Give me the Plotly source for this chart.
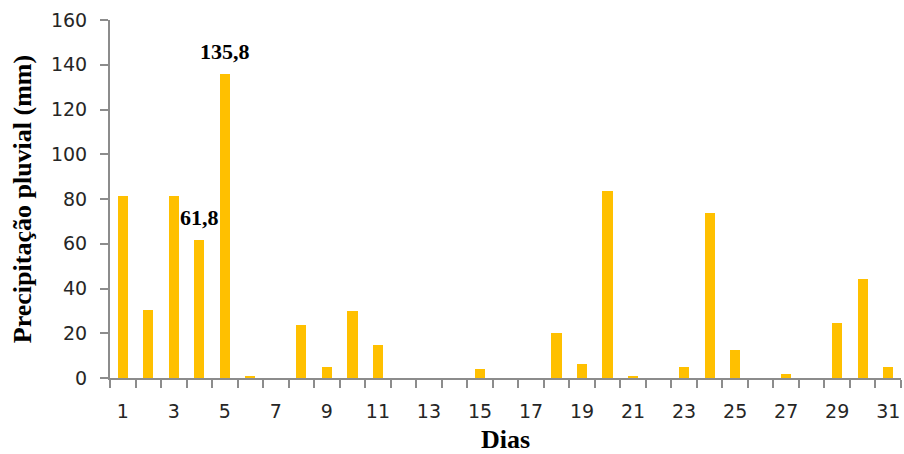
import plotly.graph_objects as go

# Daily rainfall (mm) for one month
dias = list(range(1, 32))
precipitacao = [81.5, 30.5, 81.5, 61.8, 135.8, 1.0, 0.0, 23.6, 4.7, 29.8,
                14.6, 0.0, 0.0, 0.0, 4.0, 0.0, 0.0, 19.9, 6.3, 83.6,
                1.0, 0.0, 4.7, 73.7, 12.3, 0.0, 1.8, 0.0, 24.6, 44.2, 4.7]

# Days whose value is written above the bar
dias_rotulados = [4, 5]

# Odd days get a label on the x axis
rotulos_x = list(range(1, 32, 2))

AXIS_GRAY = "#8c8c8c"
TICK_FONT = dict(family="DejaVu Sans", size=19, color="#262626")
TITLE_FONT = dict(family="Liberation Serif", size=26, color="#000000")

fig = go.Figure(
    go.Bar(
        x=dias,
        y=precipitacao,
        width=0.4,
        marker=dict(color="#FFC000", line=dict(width=0)),
        hoverinfo="x+y",
    )
)

for d in dias_rotulados:
    v = precipitacao[d - 1]
    fig.add_annotation(
        x=d, y=v,
        text=f"<b>{v:.1f}".replace(".", ",") + "</b>",
        showarrow=False,
        yanchor="bottom",
        yshift=8,
        font=dict(family="Liberation Serif", size=22, color="#000000"),
    )

fig.update_layout(
    width=904,
    height=454,
    margin=dict(l=110, r=3, t=20, b=76),
    paper_bgcolor="white",
    plot_bgcolor="white",
    showlegend=False,
    bargap=0,
)

fig.update_xaxes(
    range=[0.5, 31.5],
    tickmode="array",
    tickvals=rotulos_x,
    ticktext=[str(v) for v in rotulos_x],
    ticks="",
    ticklabelstandoff=15,
    tickfont=TICK_FONT,
    showline=True,
    linecolor=AXIS_GRAY,
    linewidth=2,
    showgrid=False,
    zeroline=False,
    minor=dict(
        tickmode="array",
        tickvals=[d + 0.5 for d in range(0, 32)],
        ticks="outside",
        ticklen=8,
        tickwidth=2,
        tickcolor=AXIS_GRAY,
        showgrid=False,
    ),
    title=dict(text="<b>Dias</b>", font=TITLE_FONT, standoff=12),
)

fig.update_yaxes(
    range=[0, 160],
    tick0=0,
    dtick=20,
    ticks="outside",
    ticklen=8,
    tickwidth=2,
    tickcolor=AXIS_GRAY,
    ticklabelstandoff=9,
    tickfont=TICK_FONT,
    showline=True,
    linecolor=AXIS_GRAY,
    linewidth=2,
    showgrid=False,
    zeroline=False,
    title=dict(text="<b>Precipitação pluvial (mm)</b>", font=TITLE_FONT, standoff=12),
)

fig.write_html("out.html")
